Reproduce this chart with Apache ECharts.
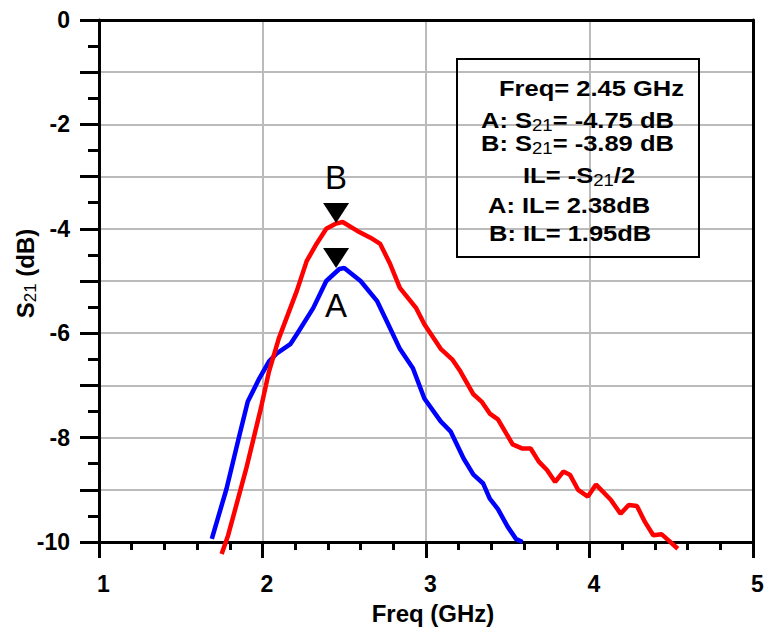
<!DOCTYPE html>
<html><head><meta charset="utf-8">
<script src="https://cdn.jsdelivr.net/npm/echarts@6/dist/echarts.min.js"></script>
<style>html,body{margin:0;padding:0;background:#fff}#c{width:769px;height:634px}</style>
</head><body><div id="c"></div>
<script>
// Curve A (blue)
const freqA = [1.69,1.78,1.86,1.91,1.98,2.04,2.09,2.17,2.21,2.31,2.39,2.47,2.50,2.60,2.70,2.76,2.84,2.92,2.99,3.09,3.15,3.23,3.29,3.35,3.39,3.44,3.50,3.55,3.59];
const s21A  = [-9.94,-8.98,-7.94,-7.31,-6.87,-6.54,-6.38,-6.21,-6.02,-5.52,-5.00,-4.77,-4.75,-5.00,-5.38,-5.77,-6.30,-6.67,-7.25,-7.69,-7.88,-8.40,-8.71,-8.88,-9.17,-9.37,-9.71,-9.94,-10.0];
// Curve B (red)
const freqB = [1.75,1.79,1.90,1.99,2.04,2.10,2.21,2.27,2.33,2.39,2.45,2.49,2.58,2.66,2.72,2.78,2.84,2.94,2.99,3.09,3.16,3.21,3.29,3.34,3.39,3.44,3.53,3.59,3.64,3.69,3.74,3.79,3.84,3.88,3.93,3.99,4.04,4.13,4.19,4.24,4.29,4.34,4.39,4.44,4.48,4.54];
const s21B  = [-10.23,-9.87,-8.60,-7.44,-6.73,-6.10,-5.19,-4.62,-4.29,-4.00,-3.90,-3.87,-4.04,-4.17,-4.29,-4.67,-5.13,-5.52,-5.83,-6.30,-6.50,-6.73,-7.17,-7.31,-7.54,-7.65,-8.13,-8.21,-8.21,-8.46,-8.62,-8.85,-8.65,-8.71,-9.00,-9.13,-8.90,-9.19,-9.46,-9.29,-9.31,-9.62,-9.87,-9.85,-9.96,-10.13];
// Markers
const markerFreq = 2.45;
const markerA = -4.75;
const markerB = -3.89;
// Axis ranges
const xRange = [1, 5];
const yRange = [-10, 0];
// Annotation lines (rich text)
const boxLines = [
  '{b|Freq= 2.45 GHz}',
  '{b|A: S}{s|21}{b|= -4.75 dB}',
  '{b|B: S}{s|21}{b|= -3.89 dB}',
  '{b|IL= -S}{s|21}{b|/2}',
  '{b|A: IL= 2.38dB}',
  '{b|B: IL= 1.95dB}'
];
const boxLineX = [499, 481, 481, 523, 488, 489];
const boxLineY = [88, 120, 143, 175, 205, 233];

const FONT = "'Liberation Sans', Arial, sans-serif";
const richStyle = {
  b: {fontFamily: FONT, fontSize: 24, fontWeight: 'bold', color: '#000', lineHeight: 28},
  s: {fontFamily: FONT, fontSize: 17, fontWeight: 'normal', color: '#000', lineHeight: 23, verticalAlign: 'bottom'}
};
const gStyle = {
  b: {fontFamily: FONT, fontSize: 22, fontWeight: 'bold', fill: '#000', lineHeight: 26},
  s: {fontFamily: FONT, fontSize: 16, fontWeight: 'normal', fill: '#000', lineHeight: 21, verticalAlign: 'bottom'}
};

const chart = echarts.init(document.getElementById('c'), null, {renderer: 'svg'});
const axisLineStyle = {color: '#000', width: 3};
const labelStyle = {fontFamily: FONT, fontSize: 23, fontWeight: 'bold', color: '#000'};

const option = {
  animation: false,
  backgroundColor: '#fff',
  grid: {left: 99, right: 16, top: 20, bottom: 92, containLabel: false, outerBoundsMode: 'none'},
  xAxis: [{
    type: 'value', min: xRange[0], max: xRange[1], interval: 1,
    axisLine: {show: true, onZero: false, lineStyle: axisLineStyle},
    axisTick: {show: true, inside: false, length: 16, lineStyle: {color: '#000', width: 3}},
    minorTick: {show: true, splitNumber: 5, length: 8, lineStyle: {color: '#000', width: 3}},
    splitLine: {show: true, lineStyle: {color: '#bbbbbb', width: 2}},
    axisLabel: Object.assign({margin: 30, padding: [0, 0, 0, 9]}, labelStyle),
    name: 'Freq (GHz)', nameLocation: 'middle', nameGap: 59, nameMoveOverlap: false,
    nameTextStyle: {fontFamily: FONT, fontSize: 24, fontWeight: 'bold', color: '#000', padding: [0, 0, 0, 14]}
  }, {
    type: 'value', min: xRange[0], max: xRange[1], position: 'top',
    axisLine: {show: true, onZero: false, lineStyle: axisLineStyle},
    axisTick: {show: false}, axisLabel: {show: false}, splitLine: {show: false}
  }],
  yAxis: [{
    type: 'value', min: yRange[0], max: yRange[1], interval: 1,
    axisLine: {show: true, onZero: false, lineStyle: axisLineStyle},
    axisTick: {show: true, inside: false, length: 19, lineStyle: {color: '#000', width: 3}},
    minorTick: {show: true, splitNumber: 2, length: 11, lineStyle: {color: '#000', width: 3}},
    splitLine: {show: true, lineStyle: {color: '#bbbbbb', width: 2}},
    axisLabel: Object.assign({margin: 29, formatter: v => (Math.round(v) % 2 === 0 ? String(v) : '')}, labelStyle),
    name: '{b|S}{s|21}{b| (dB)}', nameLocation: 'middle', nameGap: 60, nameMoveOverlap: false,
    nameTextStyle: {rich: richStyle, padding: [0, 0, 0, 15]}
  }, {
    type: 'value', min: yRange[0], max: yRange[1], position: 'right',
    axisLine: {show: true, onZero: false, lineStyle: axisLineStyle},
    axisTick: {show: false}, axisLabel: {show: false}, splitLine: {show: false}
  }],
  series: [{
    name: 'A', type: 'line', xAxisIndex: 0, yAxisIndex: 0,
    data: freqA.map((f, i) => [f, s21A[i]]),
    showSymbol: false, clip: false, z: 3,
    lineStyle: {color: '#0000ff', width: 4.5}, itemStyle: {color: '#0000ff'},
    markPoint: {
      symbol: 'triangle', symbolRotate: 180, symbolSize: [26, 20], symbolOffset: [0, -10],
      itemStyle: {color: '#000'},
      label: {show: true, position: 'bottom', distance: 21, formatter: 'A', color: '#000', fontSize: 33, fontFamily: FONT},
      data: [{coord: [markerFreq, markerA]}]
    }
  }, {
    name: 'B', type: 'line', xAxisIndex: 0, yAxisIndex: 0,
    data: freqB.map((f, i) => [f, s21B[i]]),
    showSymbol: false, clip: false, z: 3,
    lineStyle: {color: '#ff0000', width: 4.5}, itemStyle: {color: '#ff0000'},
    markPoint: {
      symbol: 'triangle', symbolRotate: 180, symbolSize: [26, 20], symbolOffset: [0, -10],
      itemStyle: {color: '#000'},
      label: {show: true, position: 'top', distance: 9, formatter: 'B', color: '#000', fontSize: 33, fontFamily: FONT},
      data: [{coord: [markerFreq, markerB]}]
    }
  }],
  graphic: [{
    type: 'rect', z: 10,
    shape: {x: 457, y: 59, width: 242, height: 198},
    style: {fill: 'none', stroke: '#000', lineWidth: 2}
  }].concat(boxLines.map((t, i) => ({
    type: 'text', z: 10, x: boxLineX[i], y: boxLineY[i], scaleX: 1.16,
    style: {text: t, rich: gStyle, fontFamily: FONT, fontSize: 22, fontWeight: 'bold', fill: '#000', verticalAlign: 'middle', align: 'left'}
  })))
};
chart.setOption(option);
</script></body></html>
